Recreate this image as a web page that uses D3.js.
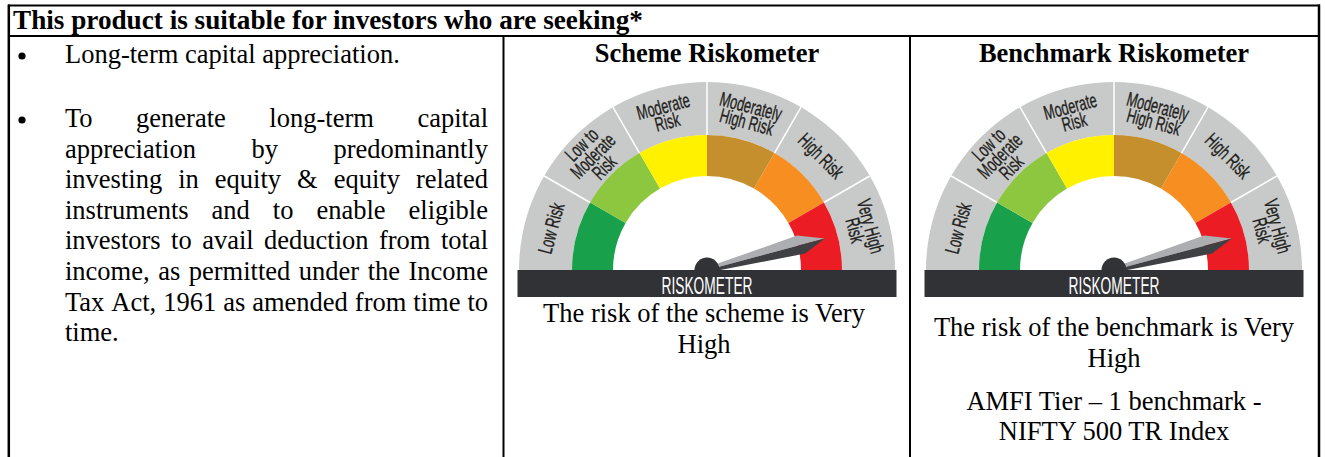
<!DOCTYPE html>
<html>
<head>
<meta charset="utf-8">
<script src="https://cdn.jsdelivr.net/npm/d3@7"></script>
<style>
  body { margin: 0; background: #fff; }
  svg { display: block; font-family: "Liberation Serif", "Times New Roman", serif; }
</style>
</head>
<body>
<svg width="1325" height="457"></svg>
<script>
// ---- data ----
var headerText = "This product is suitable for investors who are seeking*";
var bulletOne = ["Long-term capital appreciation."];
var bulletTwo = [
  "To generate long-term capital",
  "appreciation by predominantly",
  "investing in equity & equity related",
  "instruments and to enable eligible",
  "investors to avail deduction from total",
  "income, as permitted under the Income",
  "Tax Act, 1961 as amended from time to",
  "time."
];
var riskLevels = ["Low Risk", "Low to Moderate Risk", "Moderate Risk", "Moderately High Risk", "High Risk", "Very High Risk"];
var riskLabelLines = [["Low Risk"], ["Low to", "Moderate", "Risk"], ["Moderate", "Risk"], ["Moderately", "High Risk"], ["High Risk"], ["Very High", "Risk"]];
var meterTitles = ["Scheme Riskometer", "Benchmark Riskometer"];
var meterValues = [5.5, 5.5];   // needle position on the 0..6 risk scale
var meterNotes = [
  ["The risk of the scheme is Very", "High"],
  ["The risk of the benchmark is Very", "High"]
];
var benchmarkNote = ["AMFI Tier \u2013 1 benchmark -", "NIFTY 500 TR Index"];

// ---- styles ----
var bandColors = ["#18a04a", "#8dc63f", "#fff100", "#c68f2d", "#f68e21", "#ec1c24"];
var fontSize = 26.5;

var svg = d3.select("svg"),
    width = +svg.attr("width"),
    height = +svg.attr("height");

svg.append("rect").attr("width", width).attr("height", height).attr("fill", "#fff");

// ---- table frame ----
var frame = svg.append("g").attr("stroke", "#000");
frame.append("line").attr("x1", 8).attr("x2", 1320).attr("y1", 5.5).attr("y2", 5.5).attr("stroke-width", 2);
frame.append("line").attr("x1", 8).attr("x2", 1320).attr("y1", 36).attr("y2", 36).attr("stroke-width", 2);
frame.append("line").attr("x1", 8.8).attr("x2", 8.8).attr("y1", 4.5).attr("y2", height).attr("stroke-width", 2.5);
frame.append("line").attr("x1", 1319).attr("x2", 1319).attr("y1", 4.5).attr("y2", height).attr("stroke-width", 2.5);
frame.append("line").attr("x1", 503.5).attr("x2", 503.5).attr("y1", 36).attr("y2", height).attr("stroke-width", 2);
frame.append("line").attr("x1", 910).attr("x2", 910).attr("y1", 36).attr("y2", height).attr("stroke-width", 2);

svg.append("text")
    .attr("x", 13)
    .attr("y", 29)
    .attr("font-size", 27.2)
    .attr("font-weight", "bold")
    .text(headerText);

// ---- left column: bullets ----
var textLeft = 65, textRight = 488;
var body = svg.append("g").attr("font-size", fontSize).attr("fill", "#000");

function justifyLine(g, line, y, justify) {
  var words = line.split(" ");
  if (!justify || words.length < 2) {
    g.append("text").attr("x", textLeft).attr("y", y).text(line);
    return;
  }
  var texts = words.map(function(w) { return g.append("text").attr("y", y).text(w); });
  var widths = texts.map(function(t) { return t.node().getComputedTextLength(); });
  var gap = (textRight - textLeft - d3.sum(widths)) / (words.length - 1);
  var x = textLeft;
  texts.forEach(function(t, i) { t.attr("x", x); x += widths[i] + gap; });
}

body.append("circle").attr("cx", 22).attr("cy", 56).attr("r", 3.6);
justifyLine(body, bulletOne[0], 63, false);

body.append("circle").attr("cx", 22).attr("cy", 120).attr("r", 3.6);
bulletTwo.forEach(function(line, i) {
  justifyLine(body, line, 127 + i * 30.6, i < bulletTwo.length - 1);
});

// ---- riskometers ----
var angle = d3.scaleLinear()
    .domain([0, riskLevels.length])
    .range([-Math.PI / 2, Math.PI / 2]);

var rInner = 94, rBand = 135, rOuter = 188, baseY = 270;

function drawMeter(cx, title, value) {
  svg.append("text")
      .attr("x", cx)
      .attr("y", 62)
      .attr("text-anchor", "middle")
      .attr("font-size", fontSize)
      .attr("font-weight", "bold")
      .text(title);

  var g = svg.append("g").attr("transform", "translate(" + cx + "," + baseY + ")");

  // grey outer band
  g.append("path")
      .attr("d", d3.arc()({innerRadius: rBand, outerRadius: rOuter, startAngle: angle(0), endAngle: angle(riskLevels.length)}))
      .attr("fill", "#c8caca");

  // coloured band
  g.selectAll("path.band")
    .data(riskLevels)
    .enter().append("path")
      .attr("class", "band")
      .attr("d", function(d, i) {
        return d3.arc()({innerRadius: rInner, outerRadius: rBand, startAngle: angle(i), endAngle: angle(i + 1)});
      })
      .attr("fill", function(d, i) { return bandColors[i]; });

  // white dividers in the grey band
  g.selectAll("line.sep")
    .data(d3.range(1, riskLevels.length))
    .enter().append("line")
      .attr("class", "sep")
      .attr("x1", function(d) { return rBand * Math.sin(angle(d)); })
      .attr("y1", function(d) { return -rBand * Math.cos(angle(d)); })
      .attr("x2", function(d) { return rOuter * Math.sin(angle(d)); })
      .attr("y2", function(d) { return -rOuter * Math.cos(angle(d)); })
      .attr("stroke", "#fff")
      .attr("stroke-width", 1.5);

  // labels
  var rLabel = 161, lh = 16;
  var labels = g.selectAll("g.lab")
    .data(riskLabelLines)
    .enter().append("g")
      .attr("class", "lab")
      .attr("transform", function(d, i) {
        var a = angle(i + 0.5);
        return "translate(" + (rLabel * Math.sin(a)) + "," + (-rLabel * Math.cos(a)) + ")rotate(" + (a * 180 / Math.PI) + ")";
      });
  labels.each(function(lines) {
    var lg = d3.select(this);
    lines.forEach(function(t, j) {
      lg.append("text")
          .attr("transform", "translate(0," + ((j - (lines.length - 1) / 2) * lh) + ")scale(0.64,1)")
          .attr("text-anchor", "middle")
          .attr("dominant-baseline", "central")
          .attr("font-family", "'Liberation Sans', Arial, sans-serif")
          .attr("font-size", 20)
          .attr("fill", "#231f20")
          .attr("stroke", "#231f20")
          .attr("stroke-width", 0.35)
          .text(t);
    });
  });

  // needle
  var a = angle(value);
  var needle = g.append("g").attr("transform", "rotate(" + (a * 180 / Math.PI - 90) + ")");
  needle.append("path")
      .attr("d", "M0,0 L0,-2.5 L96,-10 L122,0 Z")
      .attr("fill", "#acaeb1");
  needle.append("path")
      .attr("d", "M0,0 L122,0 L99,9.5 L0,2.5 Z")
      .attr("fill", "#3f4043");

  // hub
  g.append("path")
      .attr("d", d3.arc()({innerRadius: 0, outerRadius: 12.5, startAngle: -Math.PI / 2, endAngle: Math.PI / 2}))
      .attr("fill", "#313336");

  // base bar
  g.append("rect")
      .attr("x", -189.5)
      .attr("y", 0)
      .attr("width", 379)
      .attr("height", 27)
      .attr("fill", "#303236");
  g.append("text")
      .attr("x", 0)
      .attr("y", 23.5)
      .attr("text-anchor", "middle")
      .attr("font-family", "'Liberation Sans', Arial, sans-serif")
      .attr("font-size", 24.5)
      .attr("fill", "#fff")
      .attr("textLength", 91)
      .attr("lengthAdjust", "spacingAndGlyphs")
      .text("RISKOMETER");
}

drawMeter(707, meterTitles[0], meterValues[0]);
drawMeter(1114, meterTitles[1], meterValues[1]);

// ---- notes under the meters ----
function centredLines(cx, lines, y0, step) {
  lines.forEach(function(t, i) {
    svg.append("text")
        .attr("x", cx)
        .attr("y", y0 + i * step)
        .attr("text-anchor", "middle")
        .attr("font-size", fontSize)
        .text(t);
  });
}
centredLines(704, meterNotes[0], 322, 30.5);
centredLines(1114, meterNotes[1], 336, 30.5);
centredLines(1114, benchmarkNote, 410, 30);
</script>
</body>
</html>
